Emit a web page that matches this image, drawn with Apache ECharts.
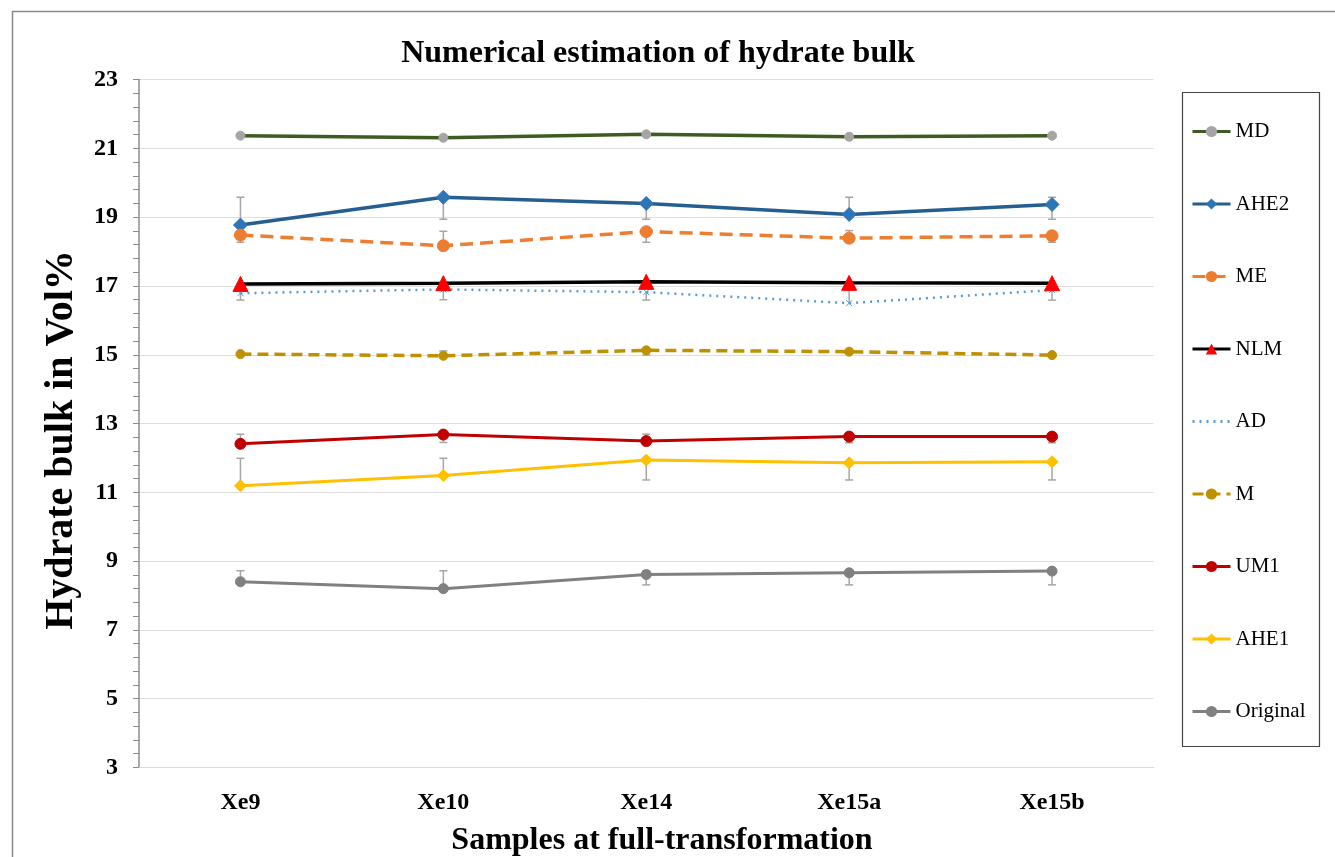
<!DOCTYPE html>
<html>
<head>
<meta charset="utf-8">
<script src="https://cdn.jsdelivr.net/npm/echarts@6/dist/echarts.min.js"></script>
<style>html,body{margin:0;padding:0;background:#fff}#c{width:1335px;height:857px}</style>
</head>
<body>
<div id="c"></div>
<script>
var categories = ['Xe9', 'Xe10', 'Xe14', 'Xe15a', 'Xe15b'];
var yTicks = [3, 5, 7, 9, 11, 13, 15, 17, 19, 21, 23];

var MD       = [21.37, 21.31, 21.41, 21.34, 21.37];
var AHE2     = [18.77, 19.58, 19.40, 19.08, 19.37];
var ME       = [18.48, 18.17, 18.58, 18.39, 18.46];
var NLM      = [17.06, 17.08, 17.12, 17.09, 17.08];
var AD       = [16.79, 16.90, 16.82, 16.50, 16.88];
var M        = [15.02, 14.97, 15.13, 15.09, 14.99];
var UM1      = [12.41, 12.68, 12.49, 12.62, 12.62];
var AHE1     = [11.19, 11.49, 11.94, 11.86, 11.89];
var Original = [8.40, 8.20, 8.61, 8.66, 8.71];

// error bar ends (null = no bar on that side)
var AHE2_hi = [19.58, null, null, 19.58, 19.58];
var AHE2_lo = [null, 18.94, 18.94, null, 18.94];
var ME_hi   = [null, 18.59, null, 18.61, null];
var ME_lo   = [18.27, null, 18.27, null, 18.27];
var AD_hi   = [null, null, null, 17.05, null];
var AD_lo   = [16.59, 16.60, 16.59, null, 16.59];
var M_hi    = [null, 15.11, null, null, null];
var M_lo    = [null, null, 14.99, null, null];
var UM1_hi  = [12.69, null, 12.69, null, null];
var UM1_lo  = [null, 12.45, null, 12.44, 12.44];
var AHE1_hi = [11.99, 11.99, null, null, null];
var AHE1_lo = [null, null, 11.36, 11.36, 11.36];
var Orig_hi = [8.72, 8.72, 8.72, null, null];
var Orig_lo = [null, null, 8.31, 8.31, 8.31];

var errSets = [
  [AHE2, AHE2_lo, AHE2_hi], [ME, ME_lo, ME_hi], [AD, AD_lo, AD_hi], [M, M_lo, M_hi],
  [UM1, UM1_lo, UM1_hi], [AHE1, AHE1_lo, AHE1_hi], [Original, Orig_lo, Orig_hi]
];
var errData = [];
errSets.forEach(function (s) {
  for (var i = 0; i < categories.length; i++) {
    var lo = s[1][i], hi = s[2][i];
    if (lo == null && hi == null) continue;
    errData.push([i, lo == null ? s[0][i] : lo, hi == null ? s[0][i] : hi, lo == null ? 0 : 1, hi == null ? 0 : 1]);
  }
});

var FONT = '"Liberation Serif", "Times New Roman", serif';
var crossPath = 'path://M0,0L10,10M10,0L0,10';

function lineSeries(name, data, color, width, type, symbol, symSize, symColor, z) {
  return {
    name: name, type: 'line', data: data, z: z || 2,
    lineStyle: { color: color, width: width, type: type },
    itemStyle: { color: symColor || color, borderColor: symColor || color },
    symbol: symbol, symbolSize: symSize, showSymbol: true,
    emphasis: { disabled: true }, animation: false
  };
}

var chart = echarts.init(document.getElementById('c'));
chart.setOption({
  backgroundColor: '#fff',
  animation: false,
  title: {
    text: 'Numerical estimation of hydrate bulk',
    left: 653, top: 33, textAlign: 'center',
    textStyle: { fontFamily: FONT, fontSize: 32, fontWeight: 'bold', color: '#000' }
  },
  grid: { left: 139, right: 181.5, top: 79.6, bottom: 89.5 },
  legend: {
    orient: 'vertical', left: 1186, top: 116,
    itemWidth: 38, itemHeight: 14, itemGap: 51.5,
    lineStyle: { width: 3 },
    textStyle: { fontFamily: FONT, fontSize: 21, color: '#000' },
    data: ['MD', 'AHE2', 'ME', 'NLM', 'AD', 'M', 'UM1', 'AHE1', 'Original']
  },
  xAxis: {
    type: 'category', data: categories, boundaryGap: true,
    axisLine: { show: true, lineStyle: { color: '#d9d9d9', width: 1 } },
    axisTick: { show: false },
    axisLabel: { fontFamily: FONT, fontSize: 24, fontWeight: 'bold', color: '#000', margin: 23 }
  },
  yAxis: {
    type: 'value', min: 3, max: 23, interval: 2,
    axisLine: { show: true, lineStyle: { color: '#8c8c8c', width: 1.5 } },
    axisTick: { show: true, length: 6, lineStyle: { color: '#8c8c8c' } },
    minorTick: { show: true, splitNumber: 5, length: 6, lineStyle: { color: '#8c8c8c' } },
    splitLine: { show: true, lineStyle: { color: '#dedede', width: 1 } },
    axisLabel: { fontFamily: FONT, fontSize: 24, fontWeight: 'bold', color: '#000', margin: 21,
      formatter: function (v) { return yTicks.indexOf(v) >= 0 ? String(v) : ''; } }
  },
  graphic: [
    { type: 'rect', left: 10, top: 9, shape: { width: 1340, height: 860 },
      style: { fill: 'none', stroke: '#888', lineWidth: 1.5 }, z: -1, silent: true },
    { type: 'rect', left: 1180, top: 90, shape: { width: 137, height: 654 },
      style: { fill: 'none', stroke: '#444', lineWidth: 1.2 }, z: -1, silent: true },
    { type: 'text', x: 662, y: 841, silent: true,
      style: { text: 'Samples at full-transformation', fill: '#000',
        font: 'bold 32px "Liberation Serif", "Times New Roman", serif',
        textAlign: 'center', textVerticalAlign: 'middle' } },
    { type: 'text', x: 62, y: 440, rotation: Math.PI / 2, silent: true,
      style: { text: 'Hydrate bulk in Vol%', fill: '#000',
        font: 'bold 40px "Liberation Serif", "Times New Roman", serif',
        textAlign: 'center', textVerticalAlign: 'middle' } }
  ],
  series: [
    {
      type: 'custom', name: 'err', data: errData, z: 1, silent: true,
      renderItem: function (params, api) {
        var x = api.value(0);
        var pLo = api.coord([x, api.value(1)]);
        var pHi = api.coord([x, api.value(2)]);
        var children = [{ type: 'line', shape: { x1: pLo[0], y1: pLo[1], x2: pHi[0], y2: pHi[1] },
          style: { stroke: '#a6a6a6', lineWidth: 1.5 } }];
        if (api.value(3)) children.push({ type: 'line', shape: { x1: pLo[0] - 4, y1: pLo[1], x2: pLo[0] + 4, y2: pLo[1] }, style: { stroke: '#a6a6a6', lineWidth: 1.5 } });
        if (api.value(4)) children.push({ type: 'line', shape: { x1: pHi[0] - 4, y1: pHi[1], x2: pHi[0] + 4, y2: pHi[1] }, style: { stroke: '#a6a6a6', lineWidth: 1.5 } });
        return { type: 'group', children: children };
      }
    },
    lineSeries('MD', MD, '#3d5c22', 3.5, 'solid', 'circle', 9, '#a5a5a5'),
    lineSeries('AHE2', AHE2, '#255e91', 3.5, 'solid', 'diamond', 14, '#2e75b6'),
    lineSeries('ME', ME, '#ed7d31', 3.5, [13, 7], 'circle', 12, '#ed7d31'),
    lineSeries('NLM', NLM, '#000000', 3.5, 'solid', 'triangle', 15, '#ff0000', 3),
    lineSeries('AD', AD, '#5b9bd5', 2.5, [2, 5], crossPath, 6, '#5b9bd5'),
    lineSeries('M', M, '#bf9000', 3.5, [11, 6], 'circle', 9, '#bf9000'),
    lineSeries('UM1', UM1, '#c00000', 3, 'solid', 'circle', 11, '#c00000'),
    lineSeries('AHE1', AHE1, '#ffc000', 3, 'solid', 'diamond', 12, '#ffc000'),
    lineSeries('Original', Original, '#808080', 3, 'solid', 'circle', 10, '#808080')
  ]
});
</script>
</body>
</html>
